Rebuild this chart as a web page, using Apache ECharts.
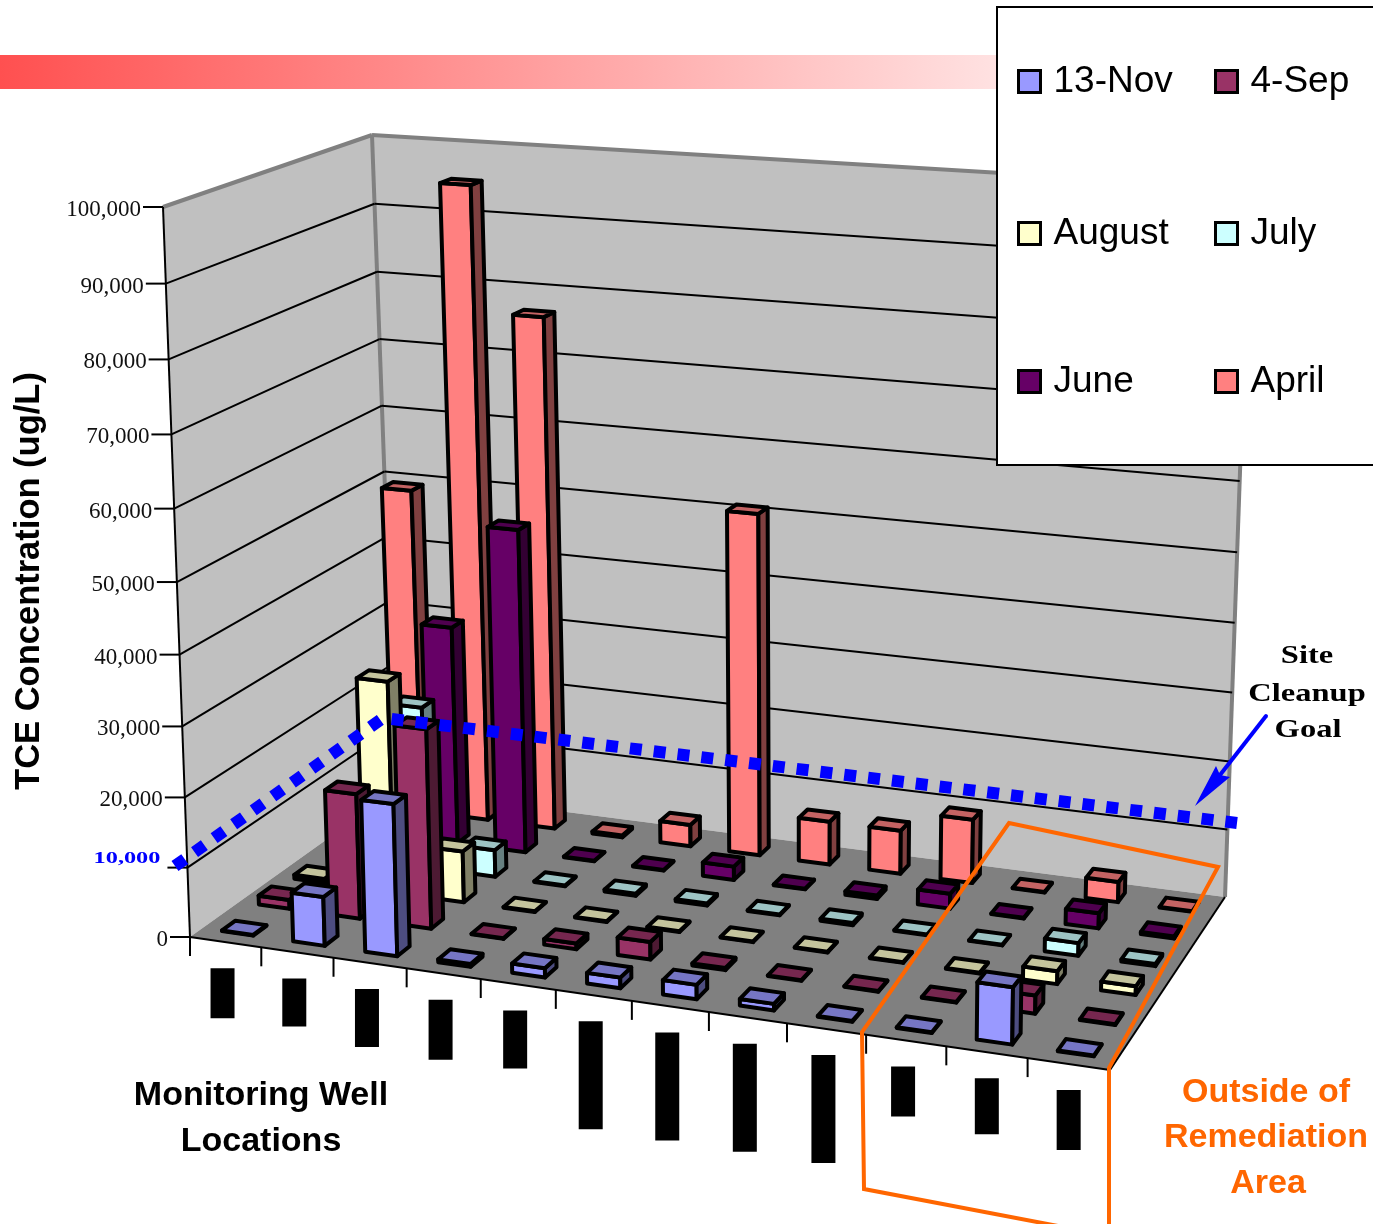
<!DOCTYPE html>
<html>
<head>
<meta charset="utf-8">
<title>TCE Concentration</title>
<script src="https://cdn.jsdelivr.net/npm/echarts@6/dist/echarts.min.js"></script>
<style>
  html, body { margin: 0; padding: 0; background: #fff; }
  #chart { width: 1373px; height: 1224px; }
</style>
</head>
<body>
<div id="chart"></div>
<script>
// values in ug/L, one entry per monitoring well (names are blacked out in the source)
const wells = ['1', '2', '3', '4', '5', '6', '7', '8', '9', '10', '11', '12']
const nov13 = [100, 7000, 21500, 400, 1300, 1500, 2000, 900, 100, 100, 7700, 100]
const sep4 = [1300, 18100, 28600, 100, 800, 2500, 300, 100, 100, 100, 2500, 100]
const august = [600, 31000, 7500, 100, 100, 100, 100, 100, 100, 100, 1800, 1200]
const july = [0, 24000, 4000, 100, 300, 300, 100, 300, 100, 100, 1800, 300]
const june = [0, 32800, 48300, 100, 100, 2000, 100, 500, 2200, 100, 2200, 300]
const april = [49500, 95000, 76800, 300, 3300, 51000, 6500, 6500, 9500, 100, 3000, 100]
const tickValues = [0, 10000, 20000, 30000, 40000, 50000, 60000, 70000, 80000, 90000, 100000]
const legendNames = ['13-Nov', '4-Sep', 'August', 'July', 'June', 'April']

// plot box corners as seen in the picture: front-left, front-right, back-right, back-left
const FLOOR = [[190, 937], [1110, 1070], [1225, 897], [396, 790]]
const CEILING = [[163, 207], [1124, 272], [1250, 188], [372, 135]]
const GRID = { left: 200, top: 100, width: 800, height: 800 }
const ROWS = 6
const INK = '#000'

const quadMap = (q) => {
  const [[x0, y0], [x1, y1], [x2, y2], [x3, y3]] = q
  const dx1 = x1 - x2, dx2 = x3 - x2, sx = x0 - x1 + x2 - x3
  const dy1 = y1 - y2, dy2 = y3 - y2, sy = y0 - y1 + y2 - y3
  const den = dx1 * dy2 - dx2 * dy1
  const g = (sx * dy2 - dx2 * sy) / den
  const h = (dx1 * sy - sx * dy1) / den
  const a = x1 - x0 + g * x1, b = x3 - x0 + h * x3
  const d = y1 - y0 + g * y1, e = y3 - y0 + h * y3
  return (s, t) => {
    const w = g * s + h * t + 1
    return [(a * s + b * t + x0) / w, (d * s + e * t + y0) / w]
  }
}
const floorMap = quadMap(FLOOR)
const ceilingMap = quadMap(CEILING)

// well position and value go through the hidden axes, then get warped into the box
const project = (api, u, row, value) => {
  const p = api.coord([u, value])
  const s = (p[0] - GRID.left) / GRID.width
  const z = (GRID.top + GRID.height - p[1]) / GRID.height
  const lift = z - 0.055 * z * (1 - z)
  const a = floorMap(s, row / ROWS)
  const b = ceilingMap(s, row / ROWS)
  return [a[0] + (b[0] - a[0]) * lift, a[1] + (b[1] - a[1]) * lift]
}

const shade = (hex, k) => {
  const n = parseInt(hex.slice(1), 16)
  const c = [n >> 16, (n >> 8) & 255, n & 255].map(v => Math.round(v * k))
  return `rgb(${c.join(',')})`
}

const face = (points, fill) => ({
  type: 'polygon',
  shape: { points },
  style: { fill, stroke: INK, lineWidth: 4, lineJoin: 'round' }
})

const barSeries = (name, values, row, color) => ({
  name,
  type: 'custom',
  coordinateSystem: 'cartesian2d',
  itemStyle: { color },
  data: values.map((v, i) => [i, v]),
  encode: { x: 0, y: 1 },
  silent: true,
  renderItem: (params, api) => {
    const i = api.value(0)
    const val = api.value(1)
    const u0 = i + 0.28, u1 = i + 0.72
    const v0 = row + 0.32, v1 = row + 0.68
    const a = project(api, u0, v0, 0), b = project(api, u1, v0, 0), c = project(api, u1, v1, 0)
    const at = project(api, u0, v0, val), bt = project(api, u1, v0, val)
    const ct = project(api, u1, v1, val), dt = project(api, u0, v1, val)
    return {
      type: 'group',
      children: [
        face([a, b, bt, at], color),
        face([b, c, ct, bt], shade(color, 0.5)),
        face([at, bt, ct, dt], shade(color, 0.77))
      ]
    }
  }
})

const line = (p, q, stroke, lineWidth) => ({
  type: 'line',
  shape: { x1: p[0], y1: p[1], x2: q[0], y2: q[1] },
  style: { stroke, lineWidth }
})

// blacked out well names under the axis, drawn as in the source
const blockHeights = [50, 48, 58, 60, 58, 108, 108, 108, 108, 50, 56, 60]

const frameSeries = {
  type: 'custom',
  coordinateSystem: 'cartesian2d',
  data: [[0, 0]],
  encode: { x: 0, y: 1 },
  silent: true,
  renderItem: (params, api) => {
    const n = wells.length
    const max = tickValues[tickValues.length - 1]
    const fl = project(api, 0, 0, 0), fr = project(api, n, 0, 0)
    const br = project(api, n, ROWS, 0), bl = project(api, 0, ROWS, 0)
    const flt = project(api, 0, 0, max), brt = project(api, n, ROWS, max), blt = project(api, 0, ROWS, max)
    const children = [
      { type: 'polygon', shape: { points: [fl, flt, blt, bl] }, style: { fill: '#c0c0c0' } },
      { type: 'polygon', shape: { points: [bl, blt, brt, br] }, style: { fill: '#c0c0c0' } },
      { type: 'polygon', shape: { points: [fl, fr, br, bl] }, style: { fill: '#808080' } },
      line(flt, blt, '#808080', 4),
      line(blt, brt, '#808080', 4),
      line(blt, bl, '#808080', 4),
      line(brt, br, '#808080', 4)
    ]
    tickValues.forEach((t) => {
      const a = project(api, 0, 0, t), b = project(api, 0, ROWS, t), c = project(api, n, ROWS, t)
      if (t > 0 && t < max) {
        children.push(line(a, b, INK, 2), line(b, c, INK, 2))
      }
      children.push(line([a[0] - 20, a[1]], a, INK, 2))
      const goal = t === 10000
      children.push({
        type: 'text',
        scaleX: goal ? 1.43 : 1,
        x: a[0] - (goal ? 27 : 22),
        y: a[1] + (goal ? -9 : 3),
        style: {
          text: t.toLocaleString('en-US'),
          font: goal ? 'bold 17px "Liberation Serif"' : '23px "Liberation Serif"',
          fill: goal ? '#0000ff' : '#111',
          textAlign: 'right',
          textVerticalAlign: 'middle'
        }
      })
    })
    children.push(line(flt, fl, INK, 2), line(fl, fr, INK, 2), line(fr, br, INK, 2))
    for (let i = 0; i <= n; i++) {
      const p = project(api, i, 0, 0)
      children.push(line(p, [p[0], p[1] + 19], INK, 2))
      if (i < n) {
        const m = project(api, i + 0.5, 0, 0)
        children.push({
          type: 'rect',
          shape: { x: m[0] - 15 + (i > 9 ? 3 : 0), y: m[1] + 26, width: 24, height: blockHeights[i] },
          style: { fill: INK }
        })
      }
    }
    return { type: 'group', children }
  }
}

const legendAt = (name, left, top) => ({
  data: [name],
  left,
  top,
  z: 5,
  icon: 'rect',
  itemWidth: 22,
  itemHeight: 22,
  selectedMode: false,
  itemStyle: { borderColor: INK, borderWidth: 3 },
  textStyle: { fontFamily: 'Liberation Sans', fontSize: 37, color: '#000', padding: [0, 0, 0, 8] }
})

const label = (text, x, y, font, fill, extra) => ({
  type: 'text',
  z: 6,
  x,
  y,
  ...extra,
  style: { text, font, fill, textAlign: 'center', textVerticalAlign: 'middle' }
})

const sansBold = 'bold 34px "Liberation Sans"'
const serifBold = 'bold 25px "Liberation Serif"'
const ORANGE = '#ff6600'

const option = {
  animation: false,
  backgroundColor: '#fff',
  grid: { ...GRID },
  xAxis: { type: 'value', min: 0, max: wells.length, show: false },
  yAxis: { type: 'value', min: 0, max: 100000, show: false },
  legend: [
    legendAt(legendNames[0], 1012, 58),
    legendAt(legendNames[1], 1209, 58),
    legendAt(legendNames[2], 1012, 210),
    legendAt(legendNames[3], 1209, 210),
    legendAt(legendNames[4], 1012, 358),
    legendAt(legendNames[5], 1209, 358)
  ],
  series: [
    frameSeries,
    barSeries('April', april, 5, '#ff8080'),
    barSeries('June', june, 4, '#660066'),
    barSeries('July', july, 3, '#ccffff'),
    barSeries('August', august, 2, '#ffffcc'),
    barSeries('4-Sep', sep4, 1, '#993366'),
    barSeries('13-Nov', nov13, 0, '#9999ff')
  ],
  graphic: [
    {
      type: 'rect',
      z: 0,
      shape: { x: 0, y: 55, width: 1200, height: 34 },
      style: {
        fill: new echarts.graphic.LinearGradient(0, 0, 1, 0, [
          { offset: 0, color: '#ff5050' },
          { offset: 1, color: '#ffffff' }
        ])
      }
    },
    {
      type: 'rect',
      z: 4,
      shape: { x: 997, y: 7, width: 500, height: 458 },
      style: { fill: '#fff', stroke: INK, lineWidth: 2 }
    },
    {
      // site cleanup goal, hand drawn over the chart in the source
      type: 'polyline',
      z: 6,
      shape: { points: [[175, 866], [383, 718], [1237, 823]] },
      style: { stroke: '#0000ff', lineWidth: 12, lineDash: [12, 12], fill: null }
    },
    {
      type: 'polyline',
      z: 6,
      shape: { points: [[1266, 716], [1220, 775]] },
      style: { stroke: '#0000ff', lineWidth: 4, lineCap: 'round', fill: null }
    },
    {
      type: 'polygon',
      z: 6,
      shape: { points: [[1195, 806], [1216, 766], [1220, 775], [1230, 777]] },
      style: { fill: '#0000ff' }
    },
    {
      type: 'polyline',
      z: 6,
      shape: { points: [[1109, 1240], [1109, 1068], [1218, 867], [1009, 823], [862, 1032], [864, 1189], [1100, 1234]] },
      style: { stroke: ORANGE, lineWidth: 4, fill: null }
    },
    label('TCE Concentration (ug/L)', 29, 581, 'bold 34.5px "Liberation Sans"', '#000', { rotation: Math.PI / 2 }),
    label('Monitoring Well', 261, 1096, sansBold, '#000'),
    label('Locations', 261, 1142, sansBold, '#000'),
    label('Outside of', 1266, 1093, sansBold, ORANGE),
    label('Remediation', 1266, 1138, sansBold, ORANGE),
    label('Area', 1268, 1184, sansBold, ORANGE),
    label('Site', 1307, 657, serifBold, '#000', { scaleX: 1.3 }),
    label('Cleanup', 1307, 695, serifBold, '#000', { scaleX: 1.3 }),
    label('Goal', 1308, 731, serifBold, '#000', { scaleX: 1.3 })
  ]
}

const chart = echarts.init(document.getElementById('chart'), null, { renderer: 'canvas' })
chart.setOption(option)
</script>
</body>
</html>
